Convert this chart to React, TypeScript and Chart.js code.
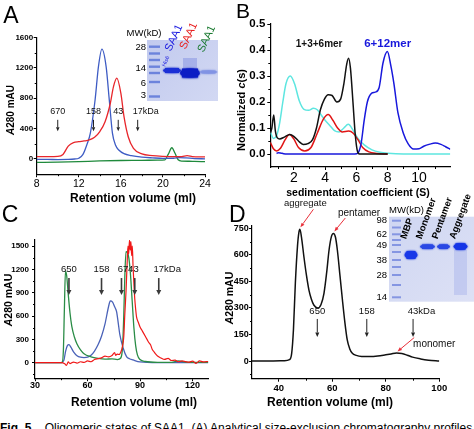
import React, { useEffect, useRef } from "react";
import { Chart, registerables } from "chart.js";

Chart.register(...registerables);

const F = "'Liberation Sans', Arial, Helvetica, sans-serif";
Chart.defaults.font.family = F;

/* ---------------- Panel A : SEC, Superdex (ml) ---------------- */
const aBlueVolume = [8, 9, 10, 11, 11.6, 12, 12.4, 12.8, 13.1, 13.55, 13.87, 14.2, 14.6, 14.9, 15.2, 15.5, 15.8, 16.3, 17, 18, 19, 20, 21, 21.6, 22.2, 23, 24];
const aBlueAbs = [-5, -5, -8, -6, 0, 10, 60, 200, 340, 776, 1215, 1445, 1215, 776, 340, 180, 118, 70, 45, 25, 15, 8, 10, 18, 14, 6, 2];
const aRedVolume = [8, 9, 10, 10.5, 11, 11.5, 12, 12.5, 13, 13.5, 14, 14.5, 15, 15.3, 15.62, 16, 16.3, 16.7, 17.2, 18, 19, 20, 21, 21.8, 22.3, 22.8, 23.5, 24];
const aRedAbs = [30, 32, 35, 60, 170, 215, 228, 237, 250, 285, 360, 490, 733, 951, 1062, 865, 557, 293, 140, 66, 45, 35, 30, 32, 45, 32, 28, 28];
const aGreenVolume = [8, 10, 12, 14, 16, 18, 19.5, 20.2, 20.5, 20.85, 21.15, 21.45, 21.8, 22.5, 23, 24];
const aGreenAbs = [-45, -42, -35, -25, -20, -18, -15, -12, 60, 148, 75, -10, -28, -30, -32, -35];
const aMarkerVolume = [10, 13.4, 15.75, 17.6];
const aMarkerLabel = ["670", "158", "43", "17kDa"];
const aGelLadder = ["28", "14", "6", "3"];
const aXTicks = [8, 12, 16, 20, 24];
const aYTicks = [0, 400, 800, 1200, 1600];

/* ---------------- Panel B : sedimentation velocity ---------------- */
const bBlackS = [0.5, 0.6, 0.72, 0.82, 0.95, 1.1, 1.4, 1.75, 2.0, 2.3, 2.6, 2.9, 3.2, 3.45, 3.7, 3.95, 4.2, 4.45, 4.75, 5.0, 5.2, 5.38, 5.5, 5.62, 5.78, 5.92, 6.05, 6.2, 7, 8];
const bBlackC = [0.08, 0.1, 0.15, 0.09, 0.062, 0.058, 0.065, 0.075, 0.068, 0.05, 0.037, 0.04, 0.055, 0.1, 0.17, 0.21, 0.228, 0.225, 0.2, 0.212, 0.27, 0.345, 0.368, 0.33, 0.2, 0.08, 0.015, 0, 0, 0];
const bCyanS = [0.5, 0.7, 0.9, 1.1, 1.3, 1.5, 1.78, 2.05, 2.35, 2.65, 2.95, 3.25, 3.5, 3.75, 4.0, 4.3, 4.6, 4.9, 5.2, 5.48, 5.8, 6.1, 6.5, 7.0, 7.5, 8.0, 9, 10, 11, 12];
const bCyanC = [0.085, 0.06, 0.07, 0.12, 0.2, 0.27, 0.3, 0.27, 0.205, 0.172, 0.168, 0.176, 0.17, 0.15, 0.13, 0.11, 0.09, 0.085, 0.1, 0.114, 0.09, 0.06, 0.035, 0.016, 0.007, 0.003, 0, 0, 0, 0];
const bRedS = [0.5, 0.7, 0.9, 1.15, 1.45, 1.72, 2.0, 2.3, 2.7, 3.1, 3.5, 3.9, 4.2, 4.5, 4.8, 5.1, 5.5, 5.8, 6.1, 6.4, 6.8, 7.3, 8];
const bRedC = [0.045, 0.02, 0.012, 0.022, 0.055, 0.075, 0.058, 0.025, 0.012, 0.025, 0.08, 0.135, 0.152, 0.13, 0.1, 0.085, 0.088, 0.08, 0.055, 0.025, 0.008, 0.002, 0];
const bBlueS = [0.9, 1.0, 1.15, 1.35, 1.6, 3, 5, 5.9, 6.1, 6.3, 6.5, 6.7, 6.98, 7.2, 7.45, 7.7, 7.98, 8.2, 8.4, 8.65, 9.0, 9.3, 9.65, 10.0, 10.3, 10.7, 11.04, 11.4, 11.7, 12];
const bBlueC = [0.002, 0.005, 0.004, 0.001, 0, 0, 0, 0, 0.004, 0.04, 0.13, 0.2, 0.234, 0.238, 0.255, 0.35, 0.394, 0.34, 0.27, 0.16, 0.08, 0.04, 0.019, 0.02, 0.03, 0.038, 0.042, 0.037, 0.028, 0.018];
const bXTicks = [2, 4, 6, 8, 10];
const bYTicks = [0, 0.1, 0.2, 0.3, 0.4, 0.5];

/* ---------------- Panel C : SEC, preparative (ml) ---------------- */
const cGreenVolume = [30, 44, 45.5, 46.2, 46.8, 47.4, 48.1, 49, 50, 51, 52.5, 54, 56, 58, 62, 66, 70, 74, 77, 79, 80, 80.7, 81.3, 82, 82.8, 83.6, 84.5, 85.5, 86.5, 87.5, 88.5, 90, 93, 100, 108, 112, 116, 122, 129];
const cGreenAbs = [0, 0, 5, 150, 700, 1180, 1120, 880, 640, 470, 330, 240, 165, 115, 75, 55, 45, 50, 40, 60, 200, 600, 1100, 1430, 1420, 1350, 1150, 800, 450, 220, 100, 40, 15, 5, 5, 22, 8, 5, 5];
const cBlueVolume = [30, 45, 46.5, 47.5, 48.5, 49.4, 50.5, 52, 54, 56, 58, 60, 62, 64, 66, 68, 70, 72, 73, 74.3, 75.5, 76.6, 77.5, 78.5, 80.4, 82.3, 84, 86, 90, 100, 110, 120, 129];
const cBlueAbs = [0, 0, 30, 150, 220, 232, 200, 140, 90, 70, 65, 70, 95, 150, 230, 340, 500, 720, 795, 780, 720, 657, 520, 357, 185, 77, 50, 35, 10, 0, 0, 0, 0];
const cRedVolume = [30, 45, 47, 48, 49, 50, 52, 54, 56, 58, 60, 62, 64, 66, 68, 70, 72, 74, 75.5, 76, 77, 78, 79, 80, 80.7, 81.3, 82, 82.6, 83.1, 83.5, 84, 84.4, 84.8, 85.2, 85.6, 86, 86.5, 87, 87.5, 88, 89, 90, 91, 92, 93, 94, 95, 96, 97, 98, 99, 100, 102, 104, 106, 108, 110, 112, 114, 116, 118, 120, 122, 124, 126, 129];
const cRedAbs = [0, 0, -15, -35, 10, -12, 8, -5, 12, 4, 22, 12, 40, 52, 62, 85, 75, 92, 130, 95, 110, 105, 135, 210, 330, 620, 920, 1260, 1500, 1400, 1580, 1450, 1560, 1380, 1500, 1250, 1020, 820, 690, 590, 520, 460, 420, 380, 340, 300, 260, 230, 170, 140, 110, 85, 60, 42, 55, 28, 32, 12, 22, 14, 6, 20, -8, 24, 10, 15];
const cMarkerVolume = [49.4, 68, 79.4, 87, 100.7];
const cMarkerLabel = ["650", "158", "67", "43", "17kDa"];
const cXTicks = [30, 60, 90, 120];
const cYTicks = [0, 300, 600, 900, 1200, 1500];

/* ---------------- Panel D : MBP fusion SEC (ml) ---------------- */
const dVolume = [30, 36, 42, 44, 44.8, 45.5, 46.2, 47, 47.5, 47.9, 48.5, 49.4, 50.3, 51.3, 52.2, 53.1, 54.6, 55.8, 56.9, 57.9, 58.8, 59.7, 60.4, 61.2, 61.9, 62.9, 63.8, 64.7, 65.6, 66.5, 67.5, 69, 71, 74, 77, 80, 82, 84, 86, 88, 90, 93, 96, 100];
const dAbs = [0, 0, 2, 8, 40, 180, 440, 650, 725, 745, 700, 590, 490, 400, 350, 317, 300, 320, 383, 500, 628, 705, 722, 700, 628, 480, 345, 220, 119, 70, 44, 32, 26, 25, 28, 35, 40, 45, 42, 33, 22, 12, 5, 0];
const dMarkerVolume = [54.4, 72.9, 90.2];
const dMarkerLabel = ["650", "158", "43kDa"];
const dPeakNames = ["aggregate", "pentamer", "monomer"];
const dGelLadder = ["98", "62", "49", "38", "28", "14"];
const dGelLanes = ["MBP", "Monomer", "Pentamer", "Aggregate"];
const dXTicks = [40, 60, 80, 100];
const dYTicks = [0, 150, 300, 450, 600, 750];

/* ---------------- helpers ---------------- */
const zip = (xs: number[], ys: number[]) => xs.map((x, i) => ({ x, y: ys[i] }));

function txt(ctx: any, s: string, x: number, y: number, font: string, color = "#000", align = "center", baseline = "middle", rot = 0) {
  ctx.save();
  ctx.translate(x, y);
  if (rot) ctx.rotate(rot);
  ctx.font = font;
  ctx.fillStyle = color;
  ctx.textAlign = align;
  ctx.textBaseline = baseline;
  ctx.fillText(s, 0, 0);
  ctx.restore();
}

function rich(ctx: any, parts: { t: string; font: string }[], cx: number, cy: number, rot: number) {
  ctx.save();
  ctx.translate(cx, cy);
  ctx.rotate(rot);
  ctx.textBaseline = "middle";
  ctx.textAlign = "left";
  ctx.fillStyle = "#000";
  let w = 0;
  parts.forEach((p) => { ctx.font = p.font; w += ctx.measureText(p.t).width; });
  let x = -w / 2;
  parts.forEach((p) => { ctx.font = p.font; ctx.fillText(p.t, x, 0); x += ctx.measureText(p.t).width; });
  ctx.restore();
}

function arrow(ctx: any, x1: number, y1: number, x2: number, y2: number, color: string, lw: number, head: number, headW: number) {
  const a = Math.atan2(y2 - y1, x2 - x1);
  const bx = x2 - Math.cos(a) * head, by = y2 - Math.sin(a) * head;
  ctx.save();
  ctx.strokeStyle = color; ctx.fillStyle = color; ctx.lineWidth = lw;
  ctx.beginPath(); ctx.moveTo(x1, y1); ctx.lineTo(bx, by); ctx.stroke();
  ctx.beginPath(); ctx.moveTo(x2, y2);
  ctx.lineTo(bx + Math.sin(a) * headW / 2, by - Math.cos(a) * headW / 2);
  ctx.lineTo(bx - Math.sin(a) * headW / 2, by + Math.cos(a) * headW / 2);
  ctx.closePath(); ctx.fill();
  ctx.restore();
}

function markerText(ctx: any, label: string, x: number, y: number, size: number) {
  const font = `${size}px ${F}`;
  ctx.font = font;
  if (label.endsWith("kDa")) {
    const num = label.replace("kDa", "");
    const w = ctx.measureText(num).width;
    txt(ctx, label, x - w / 2, y, font, "#111", "left");
  } else {
    txt(ctx, label, x, y, font, "#111", "center");
  }
}

function band(ctx: any, cx: number, cy: number, w: number, h: number, color: string) {
  ctx.save();
  ctx.fillStyle = color;
  ctx.shadowColor = color;
  ctx.shadowBlur = 2;
  ctx.beginPath();
  ctx.ellipse(cx, cy, w / 2, h / 2, 0, 0, Math.PI * 2);
  ctx.fill();
  ctx.fillRect(cx - w / 2 + 2, cy - h / 2, w - 4, h);
  ctx.restore();
}

function letter(ctx: any, s: string, x: number, y: number, size: number) {
  txt(ctx, s, x, y, `${size}px ${F}`, "#000", "left", "alphabetic");
}

/* ---------------- panel specs ---------------- */
type Axis = { min: number; max: number; ticks: number[]; minor: number[]; font: any; pad: number; fmt: (v: number) => string };
type Series = { xs: number[]; ys: number[]; color: string; width: number };
type Deco = { ctx: any; sx: (v: number) => number; sy: (v: number) => number; area: { l: number; t: number; r: number; b: number } };
type Spec = {
  left: number; top: number; width: number; height: number;
  pad: { left: number; top: number; right: number; bottom: number };
  yAxisW: number; xAxisH: number; x: Axis; y: Axis; series: Series[]; deco: (d: Deco) => void;
};

const num = (v: number) => String(v);

const specA: Spec = {
  left: 0, top: 0, width: 237, height: 215,
  pad: { left: 0, top: 37.3, right: 32, bottom: 10.8 },
  yAxisW: 36.7, xAxisH: 30,
  x: { min: 8, max: 24, ticks: aXTicks, minor: [10, 14, 18, 22], font: { size: 10.5, lineHeight: 1 }, pad: 1.2, fmt: num },
  y: { min: -200, max: 1600, ticks: aYTicks, minor: [200, 600, 1000, 1400], font: { size: 8, weight: "bold", lineHeight: 1 }, pad: 0.5, fmt: num },
  series: [
    { xs: aRedVolume, ys: aRedAbs, color: "#e8262b", width: 1.3 },
    { xs: aBlueVolume, ys: aBlueAbs, color: "#3e5cc4", width: 1.3 },
    { xs: aGreenVolume, ys: aGreenAbs, color: "#1f8a3c", width: 1.3 },
  ],
  deco: ({ ctx, sx, sy }) => {
    letter(ctx, "A", 3.3, 23.3, 23);
    txt(ctx, "Retention volume (ml)", 133, 199, `bold 12px ${F}`);
    rich(ctx, [{ t: "A", font: `italic bold 10px ${F}` }, { t: "280 mAU", font: `bold 10px ${F}` }], 11, 110, -Math.PI / 2);
    aMarkerVolume.forEach((v, i) => {
      const X = sx(v);
      arrow(ctx, X, sy(515), X, sy(365), "#222", 1, 4, 3.5);
      markerText(ctx, aMarkerLabel[i], X, sy(620), 9);
    });
    // gel inset
    const g = ctx.createLinearGradient(147, 40, 218, 100);
    g.addColorStop(0, "#c2caee"); g.addColorStop(1, "#d2d8f3");
    ctx.fillStyle = g; ctx.fillRect(147, 40, 71, 61);
    ctx.fillStyle = "#6c83dc";
    [46.7, 53.5, 60, 66.7, 73, 82, 96.5].forEach((y) => ctx.fillRect(149, y - 1.2, 11, 2.4));
    ctx.fillStyle = "rgba(60,80,210,0.25)"; ctx.fillRect(183, 58, 14, 12);
    band(ctx, 172, 70.5, 18, 5, "#1a2fd6");
    band(ctx, 190, 73, 20, 9, "#0b1cc4");
    band(ctx, 208.5, 72, 18, 3, "#8193e4");
    txt(ctx, "MW(kD)", 144, 33.3, `9.5px ${F}`);
    [47, 68.3, 83.3, 95.7].forEach((y, i) => txt(ctx, aGelLadder[i], 146, y, `9.5px ${F}`, "#000", "right"));
    const rot = (-65 * Math.PI) / 180;
    txt(ctx, "His6", 165, 67, `5.5px ${F}`, "#1a1ae0", "left", "alphabetic", rot);
    txt(ctx, "SAA1", 170.8, 52, `11px ${F}`, "#1a1ae0", "left", "alphabetic", rot);
    txt(ctx, "SAA1", 185.5, 50, `11px ${F}`, "#e82020", "left", "alphabetic", rot);
    txt(ctx, "SAA1", 203.5, 53, `11px ${F}`, "#1a7a30", "left", "alphabetic", rot);
  },
};

const specB: Spec = {
  left: 237, top: 0, width: 237, height: 205,
  pad: { left: 0, top: 24, right: 23.7, bottom: 8 },
  yAxisW: 33.3, xAxisH: 30,
  x: { min: 0.5, max: 12, ticks: bXTicks, minor: [1, 3, 5, 7, 9, 11], font: { size: 14, lineHeight: 1 }, pad: 0.7, fmt: num },
  y: { min: -0.05, max: 0.5, ticks: bYTicks, minor: [0.05, 0.15, 0.25, 0.35, 0.45], font: { size: 11.5, weight: "bold", lineHeight: 1 }, pad: 2, fmt: (v) => v.toFixed(1) },
  series: [
    { xs: bBlackS, ys: bBlackC, color: "#111111", width: 1.5 },
    { xs: bBlueS, ys: bBlueC, color: "#1818dc", width: 1.5 },
    { xs: bRedS, ys: bRedC, color: "#e01515", width: 1.5 },
    { xs: bCyanS, ys: bCyanC, color: "#5ee6e0", width: 1.5 },
  ],
  deco: ({ ctx, sx, sy }) => {
    letter(ctx, "B", 236, 18.3, 21);
    txt(ctx, "sedimentation coefficient (S)", 358, 193, `bold 10.5px ${F}`);
    rich(ctx, [{ t: "Normalized ", font: `bold 11px ${F}` }, { t: "c", font: `italic bold 11px ${F}` }, { t: "(s)", font: `bold 11px ${F}` }], 242, 110, -Math.PI / 2);
    txt(ctx, "1+3+6mer", sx(3.62), sy(0.4235), `bold 10px ${F}`, "#111");
    txt(ctx, "6+12mer", sx(8.0), sy(0.4235), `bold 11.5px ${F}`, "#1818dc");
  },
};

const specC: Spec = {
  left: 0, top: 200, width: 237, height: 215,
  pad: { left: 0, top: 40, right: 28.7, bottom: 6.8 },
  yAxisW: 35, xAxisH: 30,
  x: { min: 30, max: 129, ticks: cXTicks, minor: [45, 75, 105], font: { size: 9, weight: "bold", lineHeight: 1 }, pad: -0.5, fmt: num },
  y: { min: -200, max: 1580, ticks: cYTicks, minor: [-150, 150, 450, 750, 1050, 1350], font: { size: 8, weight: "bold", lineHeight: 1 }, pad: 3, fmt: num },
  series: [
    { xs: cRedVolume, ys: cRedAbs, color: "#f01818", width: 1.2 },
    { xs: cGreenVolume, ys: cGreenAbs, color: "#2a8c46", width: 1.3 },
    { xs: cBlueVolume, ys: cBlueAbs, color: "#4a62b8", width: 1.3 },
  ],
  deco: ({ ctx, sx, sy }) => {
    letter(ctx, "C", 1.7, 221.7, 23);
    txt(ctx, "Retention volume (ml)", 134, 403, `bold 12px ${F}`);
    rich(ctx, [{ t: "A", font: `italic bold 10.5px ${F}` }, { t: "280 mAU", font: `bold 10.5px ${F}` }], 9.2, 300, -Math.PI / 2);
    const labelShift = [0, 0, 0.9, -0.8, 0];
    cMarkerVolume.forEach((v, i) => {
      const X = sx(v);
      arrow(ctx, X, sy(1090), X, sy(870), "#3a3a3a", 1.6, 5, 5);
      markerText(ctx, cMarkerLabel[i], sx(v + labelShift[i]), sy(1203), 9.5);
    });
  },
};

const specD: Spec = {
  left: 220, top: 185, width: 254, height: 230,
  pad: { left: 0, top: 40.8, right: 34.7, bottom: 6.3 },
  yAxisW: 32, xAxisH: 30,
  x: { min: 30, max: 100, ticks: dXTicks, minor: [50, 70, 90], font: { size: 9.5, weight: "bold", lineHeight: 1 }, pad: 1.5, fmt: num },
  y: { min: -100, max: 765, ticks: dYTicks, minor: [-75, 75, 225, 375, 525, 675], font: { size: 9, weight: "bold", lineHeight: 1 }, pad: 0.3, fmt: num },
  series: [{ xs: dVolume, ys: dAbs, color: "#111111", width: 1.5 }],
  deco: ({ ctx, sx, sy }) => {
    letter(ctx, "D", 229, 222, 23);
    txt(ctx, "Retention volume (ml)", 330, 403, `bold 12px ${F}`);
    rich(ctx, [{ t: "A", font: `italic bold 10.5px ${F}` }, { t: "280 mAU", font: `bold 10.5px ${F}` }], 230, 298, -Math.PI / 2);
    dMarkerVolume.forEach((v, i) => {
      const X = sx(v);
      arrow(ctx, X, sy(238), X, sy(136), "#222", 1, 4.5, 4);
      markerText(ctx, dMarkerLabel[i], X, sy(279), 9.5);
    });
    // peak annotations (tips on the curve maxima)
    const ranges = [[40, 53], [56, 65], [75, 95]];
    const offs = [
      { tip: [0.5, -2], tail: [13, -18], text: [5, -23.5], size: 9.5 },
      { tip: [1, -2], tail: [11, -13.4], text: [24.7, -18.4], size: 10 },
      { tip: [1, -1.5], tail: [16.7, -14], text: [36.7, -7.3], size: 10 },
    ];
    ranges.forEach(([lo, hi], k) => {
      let best = -1;
      dVolume.forEach((v, i) => { if (v >= lo && v <= hi && (best < 0 || dAbs[i] > dAbs[best])) best = i; });
      const px = sx(dVolume[best]), py = sy(dAbs[best]);
      const o = offs[k];
      const tx = px + o.tip[0], ty = py + o.tip[1];
      arrow(ctx, tx + o.tail[0], ty + o.tail[1], tx, ty, "#e8303a", 1, 4.5, 3.5);
      txt(ctx, dPeakNames[k], tx + o.text[0], ty + o.text[1], `${o.size}px ${F}`, "#111");
    });
    // gel inset
    const g = ctx.createLinearGradient(389, 217, 474, 302);
    g.addColorStop(0, "#cfd6f2"); g.addColorStop(1, "#dde1f5");
    ctx.fillStyle = g; ctx.fillRect(389, 216.7, 85, 85);
    ctx.fillStyle = "#8596e2";
    [220.7, 227.5, 234.3, 240, 245, 252, 260, 267, 275, 285, 297.3].forEach((y) => ctx.fillRect(392, y - 1, 9, 2));
    ctx.fillStyle = "rgba(90,110,220,0.18)"; ctx.fillRect(454, 250, 13, 45);
    band(ctx, 411, 255, 13, 8, "#1838e8");
    band(ctx, 427.5, 246.7, 15, 4.5, "#2a48e4");
    band(ctx, 443.5, 246.7, 13, 4.5, "#2a48e4");
    band(ctx, 460.5, 246.5, 14, 6.5, "#1535e6");
    txt(ctx, "MW(kD)", 406.5, 210, `9.5px ${F}`);
    [220.7, 234.3, 245, 260, 275, 297.3].forEach((y, i) => txt(ctx, dGelLadder[i], 387, y, `9.5px ${F}`, "#000", "right"));
    const rot = (-70 * Math.PI) / 180;
    [406, 421.5, 437.5, 455].forEach((x, i) => txt(ctx, dGelLanes[i], x, 239.5, `bold 9.5px ${F}`, "#000", "left", "alphabetic", rot));
  },
};

/* ---------------- chart factory ---------------- */
function makeChart(canvas: HTMLCanvasElement, spec: Spec) {
  const axis = (a: Axis, isX: boolean) => ({
    type: "linear",
    position: isX ? "bottom" : "left",
    min: a.min,
    max: a.max,
    bounds: "data",
    afterBuildTicks: (s: any) => { s.ticks = a.ticks.map((v) => ({ value: v })); },
    afterFit: (s: any) => {
      if (isX) s.height = spec.xAxisH; else s.width = spec.yAxisW;
      s.paddingLeft = 0; s.paddingRight = 0; s.paddingTop = 0; s.paddingBottom = 0;
    },
    grid: { display: true, drawOnChartArea: false, drawTicks: true, tickLength: 3, color: "#000", lineWidth: 1 },
    border: { display: true, color: "#000", width: 1.2 },
    ticks: {
      autoSkip: false, maxRotation: 0, minRotation: 0, padding: a.pad, color: "#000",
      font: { family: F, ...a.font }, callback: (v: number) => a.fmt(v),
    },
    title: { display: false },
  });
  const deco = {
    id: "deco",
    afterDraw(chart: any) {
      const ctx = chart.ctx;
      const xs = chart.scales.x, ys = chart.scales.y;
      const sx = (v: number) => xs.getPixelForValue(v) + spec.left;
      const sy = (v: number) => ys.getPixelForValue(v) + spec.top;
      const ca = chart.chartArea;
      const area = { l: ca.left + spec.left, t: ca.top + spec.top, r: ca.right + spec.left, b: ca.bottom + spec.top };
      ctx.save();
      ctx.translate(-spec.left, -spec.top);
      ctx.strokeStyle = "#000";
      ctx.lineWidth = 1;
      ctx.beginPath();
      spec.x.minor.forEach((v) => { const X = Math.round(sx(v)) + 0.5; ctx.moveTo(X, area.b); ctx.lineTo(X, area.b + 2); });
      spec.y.minor.forEach((v) => { const Y = Math.round(sy(v)) + 0.5; ctx.moveTo(area.l, Y); ctx.lineTo(area.l - 2, Y); });
      ctx.stroke();
      spec.deco({ ctx, sx, sy, area });
      ctx.restore();
    },
  };
  return new Chart(canvas, {
    type: "line",
    data: {
      datasets: spec.series.map((s) => ({
        data: zip(s.xs, s.ys),
        borderColor: s.color,
        borderWidth: s.width,
        pointRadius: 0,
        fill: false,
        cubicInterpolationMode: "monotone",
        borderJoinStyle: "round",
      })),
    },
    options: {
      animation: false,
      responsive: false,
      maintainAspectRatio: false,
      devicePixelRatio: 1,
      events: [],
      layout: { padding: spec.pad },
      plugins: { legend: { display: false }, tooltip: { enabled: false } },
      scales: { x: axis(spec.x, true), y: axis(spec.y, false) },
    } as any,
    plugins: [deco],
  } as any);
}

function Panel({ spec }: { spec: Spec }) {
  const ref = useRef<HTMLCanvasElement>(null);
  useEffect(() => {
    const chart = makeChart(ref.current!, spec);
    return () => chart.destroy();
  }, [spec]);
  return (
    <canvas
      ref={ref}
      width={spec.width}
      height={spec.height}
      style={{ position: "absolute", left: spec.left, top: spec.top, width: spec.width, height: spec.height }}
    />
  );
}

export default function App() {
  return (
    <div style={{ position: "fixed", left: 0, top: 0, width: 474, height: 429, background: "#fff", overflow: "hidden", fontFamily: F }}>
      <Panel spec={specA} />
      <Panel spec={specB} />
      <Panel spec={specC} />
      <Panel spec={specD} />
      <div style={{ position: "absolute", left: 0, top: 421, width: 600, fontSize: 12, lineHeight: "14px", whiteSpace: "nowrap", color: "#000" }}>
        <b>Fig. 5</b>&nbsp;&nbsp;&nbsp; Oligomeric states of SAA1. (A) Analytical size-exclusion chromatography profiles of
      </div>
    </div>
  );
}
